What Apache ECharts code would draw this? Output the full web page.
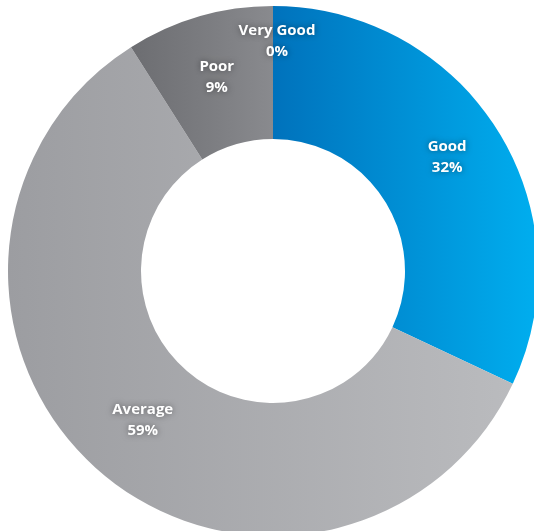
<!DOCTYPE html>
<html>
<head>
<meta charset="utf-8">
<script src="https://cdn.jsdelivr.net/npm/echarts@6/dist/echarts.min.js"></script>
<style>
  html, body { margin: 0; padding: 0; background: #fff; }
  #chart { width: 534px; height: 531px; }
</style>
</head>
<body>
<div id="chart"></div>
<script>
var categories = ['Very Good', 'Good', 'Average', 'Poor'];
var shares = [0, 32, 59, 9];
// left/right colours of each slice's horizontal gradient
var gradLeft = ['#0072bc', '#0072bc', '#9c9da1', '#6c6d71'];
var gradRight = ['#00aeef', '#00aeef', '#babbbe', '#898a8e'];

var chart = echarts.init(document.getElementById('chart'));

var pieData = categories.map(function (name, i) {
  return {
    name: name,
    value: shares[i],
    itemStyle: {
      color: new echarts.graphic.LinearGradient(0, 0, 1, 0, [
        { offset: 0, color: gradLeft[i] },
        { offset: 1, color: gradRight[i] }
      ])
    }
  };
});

chart.setOption({
  animation: false,
  series: [{
    type: 'pie',
    center: [273, 271],
    radius: [132, 265],
    startAngle: 90,
    clockwise: true,
    avoidLabelOverlap: false,
    silent: true,
    data: pieData,
    label: {
      show: true,
      position: 'inside',
      formatter: '{b}\n{c}%',
      color: '#fff',
      fontFamily: 'Open Sans',
      fontWeight: 'bold',
      fontSize: 15,
      lineHeight: 21,
      textShadowColor: 'rgba(0,0,0,0.45)',
      textShadowBlur: 6
    },
    labelLayout: function (params) {
      if (params.dataIndex === 0) return { dy: -28, dx: 4 };
      if (params.dataIndex === 1) return { dy: -6, dx: 4 };
      if (params.dataIndex === 2) return { dy: -2, dx: 3 };
      return {};
    }
  }]
});
</script>
</body>
</html>
